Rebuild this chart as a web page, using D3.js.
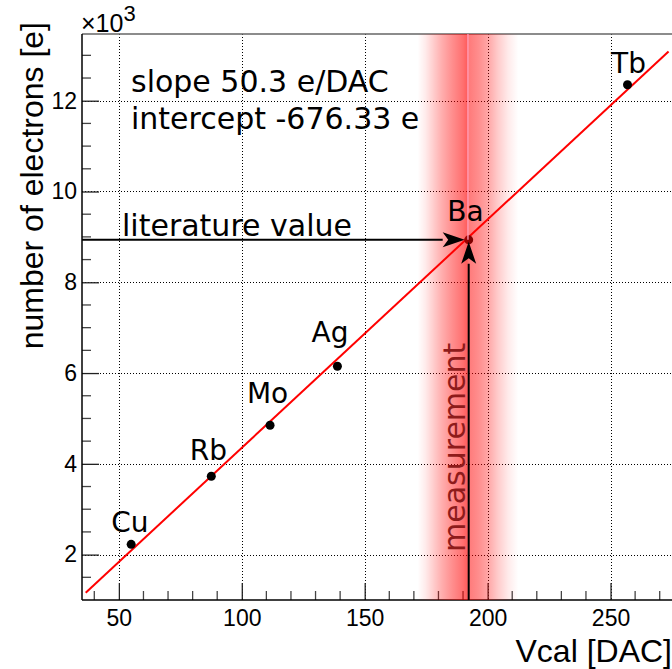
<!DOCTYPE html>
<html>
<head>
<meta charset="utf-8">
<script src="https://cdn.jsdelivr.net/npm/d3@7"></script>
<style>
  html, body { margin: 0; padding: 0; background: #fff; }
  svg { display: block; }
</style>
</head>
<body>
<svg id="chart" width="672" height="669"></svg>
<script>
// Calibration points: X-ray fluorescence lines of the target elements
const elements  = ["Cu", "Rb", "Mo", "Ag", "Ba", "Tb"];
const vcal      = [55.0, 87.6, 111.5, 138.9, 192.3, 256.9];      // Vcal [DAC]
const electrons = [2227, 3726, 4850, 6151, 8935, 12353];         // number of electrons [e]

// Where each element name sits (data coordinates: centre, baseline)
const labelVcal = [54.5, 86.4, 110.5, 135.9, 191.0, 257.3];
const labelElec = [2505, 4084, 5334, 6691, 9356, 12617];

// Linear fit
const fitSlope = 50.3;
const fitIntercept = -676.33;
const fitRange = [36.5, 273.6];

// Measurement of the unknown line and its literature value
const measuredVcal = 192.3;
const measuredBand = [171.5, 212.5];
const literatureElectrons = 8935;

// Axis ticks
const xMajor = [50, 100, 150, 200, 250];
const xMinor = d3.range(40, 275, 10);
const yMajor = [2000, 4000, 6000, 8000, 10000, 12000];
const yMajorLabels = ["2", "4", "6", "8", "10", "12"];
const yMinor = d3.range(1500, 13500, 500);

const xDomain = [35, 275];
const yDomain = [1000, 13470];

const L = 82, R = 672, T = 34, B = 600;
const x = d3.scaleLinear().domain(xDomain).range([L, R]);
const y = d3.scaleLinear().domain(yDomain).range([B, T]);

const svg = d3.select("#chart");
const sans = "'Liberation Sans', Arial, Helvetica, sans-serif";
const dejavu = "'DejaVu Sans', sans-serif";

// Grid
const grid = svg.append("g").attr("stroke", "#000").attr("stroke-width", 1)
  .attr("stroke-dasharray", "1,2");
grid.selectAll("line.gx").data(xMajor).join("line")
  .attr("x1", d => Math.round(x(d)) + 0.5).attr("x2", d => Math.round(x(d)) + 0.5)
  .attr("y1", T).attr("y2", B);
grid.selectAll("line.gy").data(yMajor).join("line")
  .attr("x1", L).attr("x2", R)
  .attr("y1", d => Math.round(y(d)) + 0.5).attr("y2", d => Math.round(y(d)) + 0.5);

// Frame top line
svg.append("line").attr("x1", L).attr("x2", R).attr("y1", T).attr("y2", T)
  .attr("stroke", "#666").attr("stroke-width", 1.5);

// Axes with ROOT-style inward ticks
const xAxis = d3.axisBottom(x).tickValues(xMajor).tickSize(-17).tickPadding(16)
  .tickFormat(d3.format("d"));
const gx = svg.append("g").attr("transform", `translate(0,${B})`).call(xAxis);
gx.select(".domain").remove();
gx.selectAll(".tick line").attr("stroke", "#222").attr("stroke-width", 1.3);
gx.selectAll(".tick text").attr("font-family", sans).attr("font-size", 23)
  .attr("fill", "#000").attr("dy", "0.45em");
gx.selectAll("line.minor").data(xMinor.filter(v => !xMajor.includes(v))).join("line")
  .attr("class", "minor")
  .attr("x1", d => x(d)).attr("x2", d => x(d)).attr("y1", 0).attr("y2", -9)
  .attr("stroke", "#444").attr("stroke-width", 1.3);

const yAxis = d3.axisLeft(y).tickValues(yMajor).tickSize(-17).tickPadding(5)
  .tickFormat((d, i) => yMajorLabels[i]);
const gy = svg.append("g").attr("transform", `translate(${L},0)`).call(yAxis);
gy.select(".domain").remove();
gy.selectAll(".tick line").attr("stroke", "#222").attr("stroke-width", 1.3);
gy.selectAll(".tick text").attr("font-family", sans).attr("font-size", 23).attr("fill", "#000");
gy.selectAll("line.minor").data(yMinor.filter(v => !yMajor.includes(v))).join("line")
  .attr("class", "minor")
  .attr("x1", 0).attr("x2", 9).attr("y1", d => y(d)).attr("y2", d => y(d))
  .attr("stroke", "#444").attr("stroke-width", 1.3);

// Axis lines
svg.append("line").attr("x1", L).attr("x2", R).attr("y1", B).attr("y2", B)
  .attr("stroke", "#000").attr("stroke-width", 1.5);
svg.append("line").attr("x1", L).attr("x2", L).attr("y1", T).attr("y2", B)
  .attr("stroke", "#000").attr("stroke-width", 1.5);

// Exponent label
const expo = svg.append("text").attr("x", L - 1).attr("y", 32)
  .attr("font-family", sans).attr("font-size", 25).attr("fill", "#000");
expo.append("tspan").text("×10");
expo.append("tspan").attr("dy", -11).attr("font-size", 22).text("3");

// Axis titles
svg.append("text").attr("transform", `translate(43,22) rotate(-90)`)
  .attr("text-anchor", "end").attr("font-family", sans).attr("font-size", 32)
  .attr("fill", "#000").text("number of electrons [e]");
svg.append("text").attr("x", 672).attr("y", 662).attr("text-anchor", "end")
  .attr("font-family", sans).attr("font-size", 32).attr("fill", "#000")
  .text("Vcal [DAC]");

// Fit line
svg.append("line")
  .attr("x1", x(fitRange[0])).attr("y1", y(fitSlope * fitRange[0] + fitIntercept))
  .attr("x2", x(fitRange[1])).attr("y2", y(fitSlope * fitRange[1] + fitIntercept))
  .attr("stroke", "#ff0000").attr("stroke-width", 2);

// Calibration points
svg.selectAll("circle.pt").data(elements).join("circle").attr("class", "pt")
  .attr("cx", (d, i) => x(vcal[i])).attr("cy", (d, i) => y(electrons[i]))
  .attr("r", 4.5).attr("fill", "#000");

// Measurement band (soft profile, strongest at the centre)
const defs = svg.append("defs");
const grad = defs.append("linearGradient").attr("id", "bandGrad")
  .attr("x1", "0%").attr("x2", "100%").attr("y1", "0%").attr("y2", "0%");
const bandStops = [[0, 0], [0.08, 0.08], [0.16, 0.2], [0.25, 0.33], [0.35, 0.45],
                   [0.45, 0.56], [0.49, 0.63], [0.51, 0.52], [0.6, 0.45], [0.7, 0.35],
                   [0.8, 0.2], [0.9, 0.08], [1, 0]];
bandStops.forEach(([o, a]) => grad.append("stop").attr("offset", o)
  .attr("stop-color", "#ff0000").attr("stop-opacity", a));
svg.append("rect")
  .attr("x", x(measuredBand[0])).attr("width", x(measuredBand[1]) - x(measuredBand[0]))
  .attr("y", T).attr("height", B - T).attr("fill", "url(#bandGrad)");
svg.append("line")
  .attr("x1", x(d3.mean(measuredBand))).attr("x2", x(d3.mean(measuredBand)))
  .attr("y1", T).attr("y2", y(literatureElectrons))
  .attr("stroke", "#ffa0bc").attr("stroke-width", 1.3);

// Arrows
function arrow(x1, y1, x2, y2) {
  const ang = Math.atan2(y2 - y1, x2 - x1);
  const len = 22, half = 7.5;
  const bx = x2 - len * Math.cos(ang), by = y2 - len * Math.sin(ang);
  svg.append("line").attr("x1", x1).attr("y1", y1).attr("x2", bx).attr("y2", by)
    .attr("stroke", "#000").attr("stroke-width", 2);
  const px = -Math.sin(ang) * half, py = Math.cos(ang) * half;
  svg.append("path")
    .attr("d", `M${x2},${y2}L${bx + px},${by + py}L${bx + len * 0.25 * Math.cos(ang)},${by + len * 0.25 * Math.sin(ang)}L${bx - px},${by - py}Z`)
    .attr("fill", "#000");
}
arrow(x(xDomain[0]), y(literatureElectrons), x(measuredVcal) - 4, y(literatureElectrons));
arrow(x(measuredVcal), y(yDomain[0]), x(measuredVcal), y(literatureElectrons) + 2);

// Element names
svg.selectAll("text.el").data(elements).join("text").attr("class", "el")
  .attr("x", (d, i) => x(labelVcal[i])).attr("y", (d, i) => y(labelElec[i]))
  .attr("text-anchor", "middle").attr("font-family", dejavu).attr("font-size", 28)
  .attr("fill", "#000").text(d => d);

// Fit result and annotations
svg.append("text").attr("x", 131).attr("y", 92).attr("font-family", dejavu)
  .attr("font-size", 30).attr("fill", "#000").text(`slope ${fitSlope} e/DAC`);
svg.append("text").attr("x", 131).attr("y", 129).attr("font-family", dejavu)
  .attr("font-size", 30).attr("fill", "#000").text(`intercept ${fitIntercept} e`);
svg.append("text").attr("x", 122).attr("y", 236).attr("font-family", dejavu)
  .attr("font-size", 30).attr("fill", "#000").text("literature value");
svg.append("text").attr("transform", `translate(465,552) rotate(-90)`)
  .attr("font-family", dejavu).attr("font-size", 30).attr("fill", "#8e1b1b")
  .text("measurement");
</script>
</body>
</html>
